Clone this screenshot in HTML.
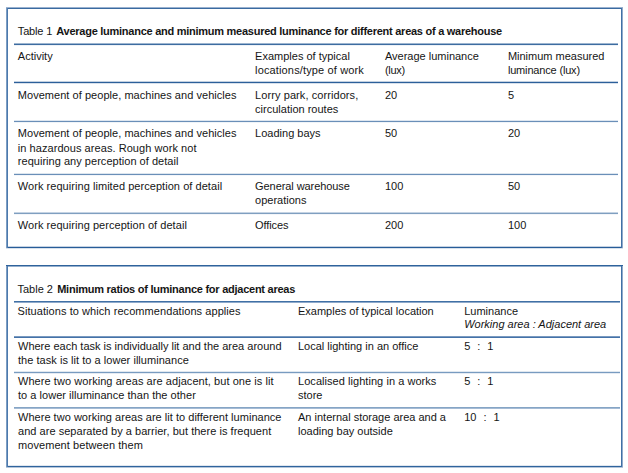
<!DOCTYPE html>
<html><head><meta charset="utf-8"><title>Tables</title>
<style>
html,body{margin:0;padding:0;background:#fff}
body{width:628px;height:473px;position:relative;overflow:hidden;font-family:"Liberation Sans",Arial,Helvetica,sans-serif;font-size:11px;line-height:14px;color:#151515}
.t{position:absolute;white-space:nowrap;height:14px}
i{position:absolute;display:block}
.b{font-weight:bold;letter-spacing:-0.26px}
.i{font-style:italic}
.r{word-spacing:3.9px}
</style></head><body>
<i style="left:14px;top:43px;width:604px;height:1px;background:#9db5d0"></i>
<i style="left:14px;top:44px;width:604px;height:1px;background:#3d6ca0"></i>
<i style="left:14px;top:45px;width:604px;height:1px;background:#eef2f7"></i>
<i style="left:14px;top:81px;width:604px;height:1px;background:#c3d1e1"></i>
<i style="left:14px;top:82px;width:604px;height:1px;background:#2c5f9a"></i>
<i style="left:14px;top:83px;width:604px;height:1px;background:#d8e1ec"></i>
<i style="left:14px;top:120px;width:604px;height:1px;background:#dde6f0"></i>
<i style="left:14px;top:121px;width:604px;height:1px;background:#6a8fb8"></i>
<i style="left:14px;top:122px;width:604px;height:1px;background:#f0f4f8"></i>
<i style="left:14px;top:173px;width:604px;height:1px;background:#dce5ee"></i>
<i style="left:14px;top:174px;width:604px;height:1px;background:#6a8fb8"></i>
<i style="left:14px;top:175px;width:604px;height:1px;background:#f4f6fa"></i>
<i style="left:14px;top:212px;width:604px;height:1px;background:#c5d3e3"></i>
<i style="left:14px;top:213px;width:604px;height:1px;background:#7f9fc0"></i>
<i style="left:14px;top:214px;width:604px;height:1px;background:#f4f6fa"></i>
<i style="left:14px;top:301px;width:606px;height:1px;background:#4070a5"></i>
<i style="left:14px;top:302px;width:606px;height:1px;background:#8faacb"></i>
<i style="left:14px;top:336px;width:606px;height:1px;background:#7a9ac0"></i>
<i style="left:14px;top:337px;width:606px;height:1px;background:#4472a8"></i>
<i style="left:14px;top:371px;width:606px;height:1px;background:#e0e8f0"></i>
<i style="left:14px;top:372px;width:606px;height:1px;background:#789bc0"></i>
<i style="left:14px;top:373px;width:606px;height:1px;background:#e5ebf3"></i>
<i style="left:14px;top:407px;width:606px;height:1px;background:#85a5c5"></i>
<i style="left:14px;top:408px;width:606px;height:1px;background:#a5bbd5"></i>
<i style="left:6px;top:7px;width:617px;height:1px;background:#9ab2d0"></i>
<i style="left:6px;top:8px;width:617px;height:1px;background:#3a6aa0"></i>
<i style="left:6px;top:246px;width:617px;height:1px;background:#c5d2e2"></i>
<i style="left:6px;top:247px;width:617px;height:1px;background:#275c98"></i>
<i style="left:6px;top:248px;width:617px;height:1px;background:#d8e1ec"></i>
<i style="left:6px;top:8px;width:1px;height:240px;background:#7d9dc3"></i>
<i style="left:7px;top:8px;width:1px;height:240px;background:#4c7aad"></i>
<i style="left:621px;top:8px;width:1px;height:240px;background:#4070a5"></i>
<i style="left:622px;top:8px;width:1px;height:240px;background:#90aaca"></i>
<i style="left:6px;top:265px;width:617px;height:1px;background:#2f639c"></i>
<i style="left:6px;top:266px;width:617px;height:1px;background:#95afcd"></i>
<i style="left:6px;top:465px;width:617px;height:1px;background:#e0e7f0"></i>
<i style="left:6px;top:466px;width:617px;height:1px;background:#30649d"></i>
<i style="left:6px;top:467px;width:617px;height:1px;background:#b5c6db"></i>
<i style="left:6px;top:266px;width:1px;height:201px;background:#7d9dc3"></i>
<i style="left:7px;top:266px;width:1px;height:201px;background:#4c7aad"></i>
<i style="left:621px;top:266px;width:1px;height:201px;background:#4070a5"></i>
<i style="left:622px;top:266px;width:1px;height:201px;background:#90aaca"></i>
<div class="t" style="left:17.8px;top:24px;letter-spacing:-0.17px">Table 1</div>
<div class="t b" style="left:56.3px;top:24px">Average luminance and minimum measured luminance for different areas of a warehouse</div>
<div class="t" style="left:17.8px;top:49px">Activity</div>
<div class="t" style="left:255.1px;top:49px">Examples of typical</div>
<div class="t" style="left:255.1px;top:63px;letter-spacing:0.14px">locations/type of work</div>
<div class="t" style="left:384.9px;top:49px">Average luminance</div>
<div class="t" style="left:384.9px;top:63px;letter-spacing:-0.3px">(lux)</div>
<div class="t" style="left:507.9px;top:49px">Minimum measured</div>
<div class="t" style="left:507.9px;top:63px;letter-spacing:-0.17px">luminance (lux)</div>
<div class="t" style="left:17.8px;top:88px;letter-spacing:0.04px">Movement of people, machines and vehicles</div>
<div class="t" style="left:255.1px;top:88px;letter-spacing:0.08px">Lorry park, corridors,</div>
<div class="t" style="left:255.1px;top:102px">circulation routes</div>
<div class="t" style="left:384.9px;top:88px">20</div>
<div class="t" style="left:507.9px;top:88px">5</div>
<div class="t" style="left:17.8px;top:126px;letter-spacing:0.04px">Movement of people, machines and vehicles</div>
<div class="t" style="left:17.8px;top:141px;letter-spacing:0.06px">in hazardous areas. Rough work not</div>
<div class="t" style="left:17.8px;top:154px;letter-spacing:0.03px">requiring any perception of detail</div>
<div class="t" style="left:255.1px;top:126px">Loading bays</div>
<div class="t" style="left:384.9px;top:126px">50</div>
<div class="t" style="left:507.9px;top:126px">20</div>
<div class="t" style="left:17.8px;top:179px;letter-spacing:0.05px">Work requiring limited perception of detail</div>
<div class="t" style="left:255.1px;top:179px;letter-spacing:-0.08px">General warehouse</div>
<div class="t" style="left:255.1px;top:193px">operations</div>
<div class="t" style="left:384.9px;top:179px">100</div>
<div class="t" style="left:507.9px;top:179px">50</div>
<div class="t" style="left:17.8px;top:218px;letter-spacing:0.05px">Work requiring perception of detail</div>
<div class="t" style="left:255.1px;top:218px;letter-spacing:-0.1px">Offices</div>
<div class="t" style="left:384.9px;top:218px">200</div>
<div class="t" style="left:507.9px;top:218px">100</div>
<div class="t" style="left:17.5px;top:282px">Table 2</div>
<div class="t b" style="left:57.2px;top:282px;letter-spacing:-0.25px">Minimum ratios of luminance for adjacent areas</div>
<div class="t" style="left:17.5px;top:304px;letter-spacing:0.07px">Situations to which recommendations applies</div>
<div class="t" style="left:298.0px;top:304px">Examples of typical location</div>
<div class="t" style="left:464.2px;top:304px">Luminance</div>
<div class="t i" style="left:464.2px;top:317px">Working area : Adjacent area</div>
<div class="t" style="left:18.0px;top:339px">Where each task is individually lit and the area around</div>
<div class="t" style="left:18.0px;top:353px;letter-spacing:0.04px">the task is lit to a lower illuminance</div>
<div class="t" style="left:298.0px;top:339px">Local lighting in an office</div>
<div class="t r" style="left:464.2px;top:339px">5 : 1</div>
<div class="t" style="left:18.0px;top:374px;letter-spacing:0.06px">Where two working areas are adjacent, but one is lit</div>
<div class="t" style="left:18.0px;top:388px;letter-spacing:0.03px">to a lower illuminance than the other</div>
<div class="t" style="left:298.0px;top:374px;letter-spacing:0.05px">Localised lighting in a works</div>
<div class="t" style="left:298.0px;top:388px">store</div>
<div class="t r" style="left:464.2px;top:374px">5 : 1</div>
<div class="t" style="left:18.0px;top:410px;letter-spacing:0.026px">Where two working areas are lit to different luminance</div>
<div class="t" style="left:18.0px;top:424px;letter-spacing:0.036px">and are separated by a barrier, but there is frequent</div>
<div class="t" style="left:18.0px;top:438px;letter-spacing:0.07px">movement between them</div>
<div class="t" style="left:298.0px;top:410px">An internal storage area and a</div>
<div class="t" style="left:298.0px;top:424px">loading bay outside</div>
<div class="t r" style="left:464.2px;top:410px">10 : 1</div>
</body></html>
